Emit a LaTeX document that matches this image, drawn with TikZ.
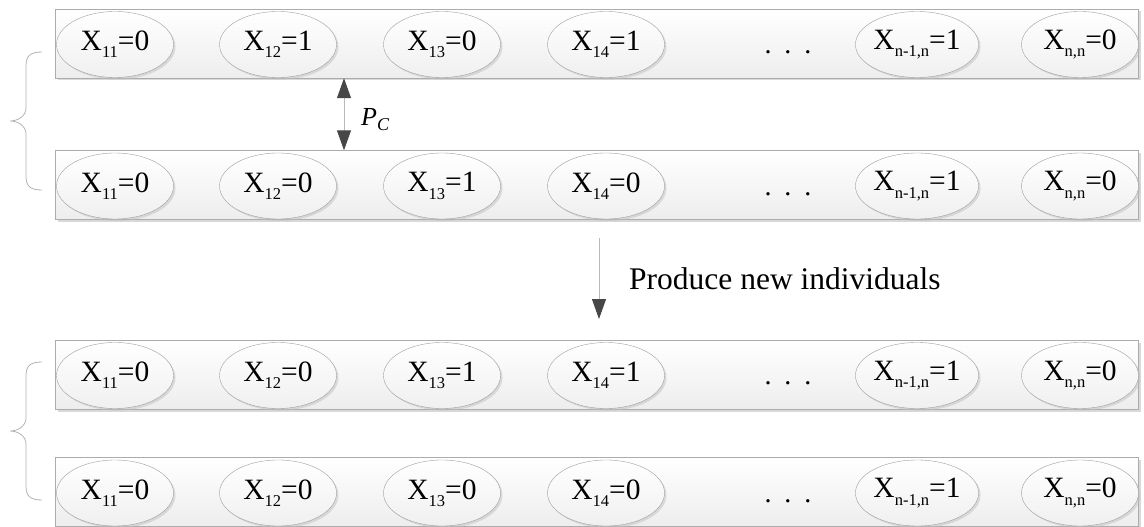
\documentclass[tikz,border=0pt]{standalone}
\usepackage{fontspec}
\setmainfont{Liberation Serif}
\usetikzlibrary{shapes.geometric,shadows,arrows.meta}
\newcommand{\sbt}[1]{\raisebox{-0.25em}{\fontsize{16.5}{18}\selectfont #1}}
\newcommand{\sbp}[1]{\raisebox{-0.22em}{\fontsize{18}{18}\selectfont #1}}
\begin{document}
\begin{tikzpicture}[x=1pt,y=-1pt,
  bar/.style={draw=gray!65, top color=white, bottom color=gray!14,
    minimum width=1083pt, minimum height=69pt, inner sep=0pt,
    drop shadow={shadow xshift=2.5pt,shadow yshift=-2.5pt,fill=black!25,opacity=0.6}},
  gene/.style={ellipse, draw=gray!75, top color=white, bottom color=gray!12,
    minimum width=117pt, minimum height=66pt, inner sep=0pt,
    font=\fontsize{29.5}{31}\selectfont,
    drop shadow={shadow xshift=2pt,shadow yshift=-2pt,fill=black!25,opacity=0.5}},
  dots/.style={anchor=base, font=\fontsize{28}{30}\selectfont, inner sep=0pt},
  conn/.style={draw=gray!55, line width=1pt},
  tipdark/.style={arrows={-Triangle[length=20pt,width=14pt,color=black!72]}},
  tipboth/.style={arrows={Triangle[length=20pt,width=14pt,color=black!72]-Triangle[length=20pt,width=14pt,color=black!72]}},
  bracestyle/.style={draw=gray!60, line width=0.8pt}
]
\useasboundingbox (0,0) rectangle (1144,527);

\foreach \r/\y/\a/\b/\c/\d in {1/43.5/0/1/0/1, 2/185/0/0/1/0, 3/374.5/0/0/1/1, 4/492/0/0/0/0}{
  \node[bar] (r\r) at (596.5,\y) {};
  \node[gene] (g\r a) at (115,\y+1) {X\sbt{11}=\a};
  \node[gene] (g\r b) at (278,\y+1) {X\sbt{12}=\b};
  \node[gene] (g\r c) at (442,\y+1) {X\sbt{13}=\c};
  \node[gene] (g\r d) at (606,\y+1) {X\sbt{14}=\d};
  \node[dots] (dd\r) at (788,\y+10) {.\hspace{13pt}.\hspace{13pt}.};
  \node[gene] (g\r e) at (917,\y+1) {X\sbt{n-1,n}=1};
  \node[gene] (g\r f) at (1080,\y+1) {X\sbt{n,n}=0};
}

% crossover arrow
\coordinate (cx) at (344,0);
\draw[conn,tipboth] (r1.south -| cx) -- (r2.north -| cx);
\node[anchor=base west, font=\fontsize{26}{30}\selectfont\itshape, inner sep=0pt] (pc) at (361,125) {P\sbp{C}};

% produce arrow
\coordinate (da) at (599,238);
\coordinate (db) at (599,319);
\draw[conn,tipdark] (da) -- (db);
\node[anchor=west, font=\fontsize{31.5}{36}\selectfont, inner sep=0pt] (lab) at (629,279) {Produce new individuals};

% braces
\draw[bracestyle] (42,52) .. controls (30,52) and (26,56) .. (26,66) -- (26,108)
  .. controls (26,116) and (18,121) .. (10,121)
  .. controls (18,121) and (26,126) .. (26,134) -- (26,176)
  .. controls (26,186) and (30,190) .. (42,190);
\draw[bracestyle] (42,362) .. controls (30,362) and (26,366) .. (26,376) -- (26,418)
  .. controls (26,426) and (18,431) .. (10,431)
  .. controls (18,431) and (26,436) .. (26,444) -- (26,486)
  .. controls (26,496) and (30,500) .. (42,500);
\end{tikzpicture}
\end{document}
